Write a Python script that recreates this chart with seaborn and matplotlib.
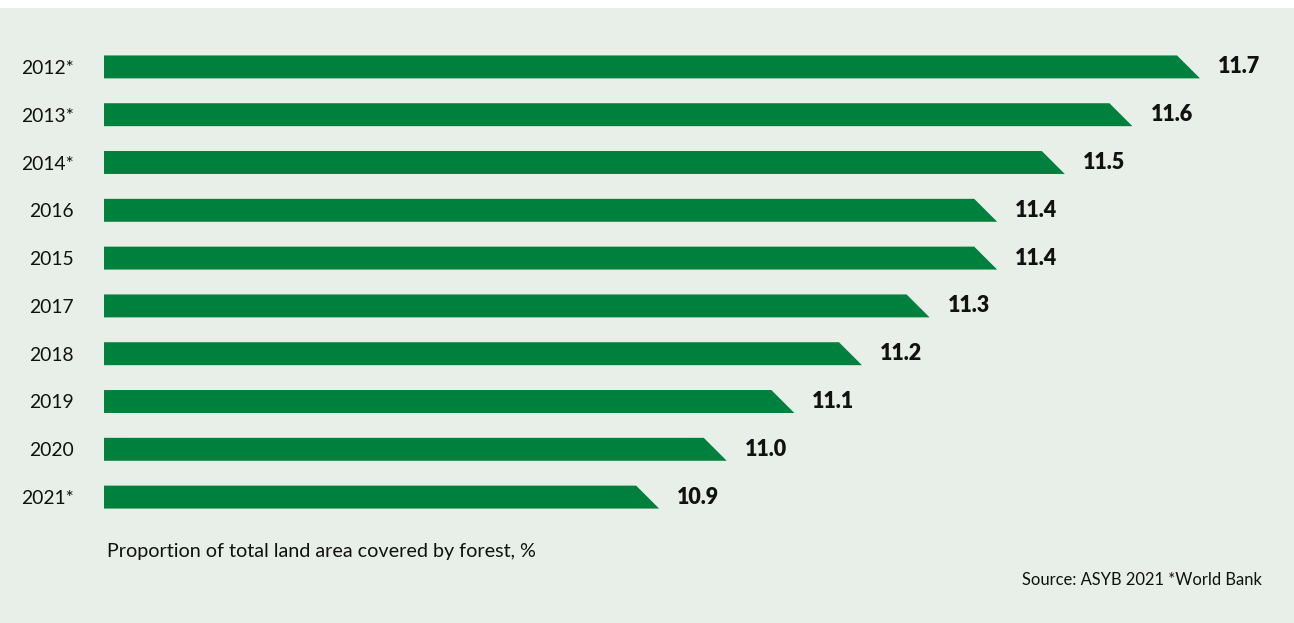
#!/usr/bin/env python3

# Forest cover share, horizontal bars with slanted ends

import matplotlib
matplotlib.use("Agg")
import matplotlib.pyplot as plt
import seaborn as sns
import pandas as pd
from matplotlib.patches import Polygon, Rectangle

years = ["2012*", "2013*", "2014*", "2016", "2015", "2017", "2018", "2019", "2020", "2021*"]
values = [11.7, 11.6, 11.5, 11.4, 11.4, 11.3, 11.2, 11.1, 11.0, 10.9]

caption = "Proportion of total land area covered by forest, %"
source = "Source: ASYB 2021 *World Bank"

bg = "#e8eee8"
green = "#00803d"

sns.set_theme(style="white")
plt.rcParams["font.family"] = ["Lato", "DejaVu Sans"]


def main():
    df = pd.DataFrame({"Year": years, "Value": values})

    fig = plt.figure(figsize=(12.94, 6.23), dpi=100, facecolor=bg)
    # white strip along the top edge
    fig.patches.append(Rectangle((0, 1 - 8 / 623), 1, 8 / 623, transform=fig.transFigure,
                                 facecolor="white", edgecolor="none", zorder=0))
    ax = fig.add_axes([104 / 1294, 1 - 521 / 623, 1190 / 1294, 478 / 623])
    ax.set_facecolor(bg)

    sns.barplot(data=df, x="Value", y="Year", orient="h", color=green,
                width=0.48, saturation=1, ax=ax)

    ax.set_xlim(10.079, 11.839)
    ax.set_ylim(9.5, -0.5)

    ax.bar_label(ax.containers[0], fmt="%.1f", padding=13, fontsize=15.5,
                 fontweight="heavy", color="#111111")

    slant = 0.034
    for p in list(ax.containers[0]):
        x, y, w, h = p.get_x(), p.get_y(), p.get_width(), p.get_height()
        poly = Polygon([(x, y), (x + w - slant, y), (x + w, y + h), (x, y + h)],
                       closed=True, facecolor=green, edgecolor="none")
        ax.add_patch(poly)
        p.set_visible(False)

    sns.despine(ax=ax, left=True, bottom=True)
    ax.set_xticks([])
    ax.set_xlabel("")
    ax.set_ylabel("")
    ax.tick_params(axis="y", length=0, pad=22, labelsize=13.9, labelcolor="#111111")

    fig.text(107 / 1294, 1 - 552 / 623, caption, fontsize=14.2, color="#111111",
             ha="left", va="center")
    fig.text(1262 / 1294, 1 - 580 / 623, source, fontsize=11.9, color="#111111",
             ha="right", va="center")

    plt.savefig("out.png", dpi=100, facecolor=bg)


if __name__ == "__main__":
    main()
